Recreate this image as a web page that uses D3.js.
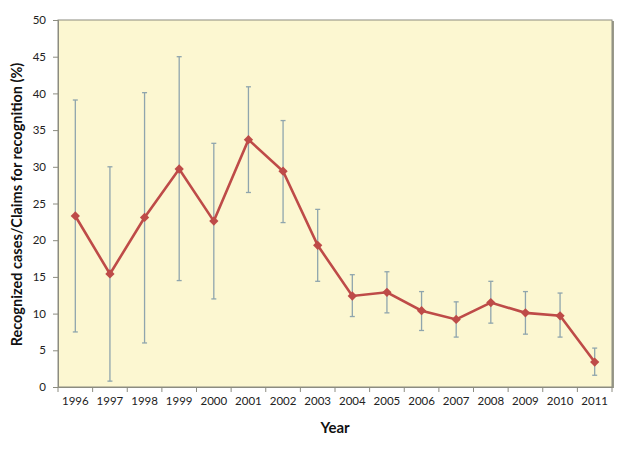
<!DOCTYPE html>
<html>
<head>
<meta charset="utf-8">
<script src="https://cdnjs.cloudflare.com/ajax/libs/d3/7.8.5/d3.min.js"></script>
<style>
  body { margin: 0; background: #fff; }
  text { font-family: "Lato", "Open Sans", sans-serif; }
</style>
</head>
<body>
<script>
const years = ["1996","1997","1998","1999","2000","2001","2002","2003","2004","2005","2006","2007","2008","2009","2010","2011"];
const values = [23.3, 15.4, 23.1, 29.7, 22.6, 33.7, 29.4, 19.3, 12.4, 12.9, 10.4, 9.2, 11.5, 10.1, 9.7, 3.4];
const upper = [39.1, 30.0, 40.1, 45.0, 33.2, 40.9, 36.3, 24.2, 15.3, 15.7, 13.0, 11.6, 14.4, 13.0, 12.8, 5.3];
const lower = [7.5, 0.8, 6.0, 14.5, 12.0, 26.5, 22.4, 14.4, 9.6, 10.1, 7.7, 6.8, 8.7, 7.2, 6.8, 1.6];
const yTicks = [0, 5, 10, 15, 20, 25, 30, 35, 40, 45, 50];

const W = 628, H = 449;
const m = { left: 58, top: 20, right: 16, bottom: 62 };
const iw = W - m.left - m.right, ih = H - m.top - m.bottom;

const svg = d3.select("body").append("svg").attr("width", W).attr("height", H);
const g = svg.append("g").attr("transform", `translate(${m.left},${m.top})`);

const x = d3.scaleBand().domain(years).range([0, iw]);
const y = d3.scaleLinear().domain([0, 50]).range([ih, 0]);

// plot area
g.append("rect").attr("x", 2).attr("y", 1).attr("width", iw).attr("height", ih)
  .attr("fill", "#9a9a8a");
g.append("rect").attr("width", iw).attr("height", ih)
  .attr("fill", "#fcf7d1").attr("stroke", "#8c8c80").attr("stroke-width", 1);

// y axis
const ya = g.append("g").call(d3.axisLeft(y).tickValues(yTicks).tickSize(5).tickPadding(7));
ya.select(".domain").attr("stroke", "#8c8c80");
ya.selectAll(".tick line").attr("stroke", "#8c8c80");
ya.selectAll("text").attr("font-size", 11.5).attr("fill", "#222");

// x axis: ticks between categories
const xa = g.append("g").attr("transform", `translate(0,${ih})`)
  .call(d3.axisBottom(x).tickSize(0).tickPadding(10));
xa.select(".domain").attr("stroke", "#8c8c80");
xa.selectAll("text").attr("font-size", 11.5).attr("fill", "#222");
g.append("g").selectAll("line").data(years.concat(["end"])).join("line")
  .attr("x1", (d, i) => i * x.step()).attr("x2", (d, i) => i * x.step())
  .attr("y1", ih).attr("y2", ih + 5).attr("stroke", "#8c8c80");

const cx = d => x(d) + x.bandwidth() / 2;

// error bars
const eb = g.append("g").attr("stroke", "#8fa5ad").attr("stroke-width", 1.3);
years.forEach((yr, i) => {
  eb.append("line").attr("x1", cx(yr)).attr("x2", cx(yr)).attr("y1", y(upper[i])).attr("y2", y(lower[i]));
  eb.append("line").attr("x1", cx(yr) - 2.5).attr("x2", cx(yr) + 2.5).attr("y1", y(upper[i])).attr("y2", y(upper[i]));
  eb.append("line").attr("x1", cx(yr) - 2.5).attr("x2", cx(yr) + 2.5).attr("y1", y(lower[i])).attr("y2", y(lower[i]));
});

// line
const line = d3.line().x((d, i) => cx(years[i])).y(d => y(d));
g.append("path").datum(values).attr("d", line)
  .attr("fill", "none").attr("stroke", "#be4b48").attr("stroke-width", 2.6);

// diamond markers
g.append("g").selectAll("path").data(values).join("path")
  .attr("transform", (d, i) => `translate(${cx(years[i])},${y(d)})`)
  .attr("d", d3.symbol().type(d3.symbolDiamond2).size(55))
  .attr("fill", "#be4b48");

// titles
svg.append("text").attr("x", m.left + iw / 2).attr("y", 433).attr("text-anchor", "middle")
  .attr("font-size", 15).attr("font-weight", "bold").attr("fill", "#111").text("Year");
svg.append("text").attr("transform", `translate(22,${m.top + ih / 2 + 1}) rotate(-90)`)
  .attr("text-anchor", "middle").attr("font-size", 14.5).attr("font-weight", "bold")
  .attr("fill", "#111").text("Recognized cases/Claims for recognition (%)");
</script>
</body>
</html>
